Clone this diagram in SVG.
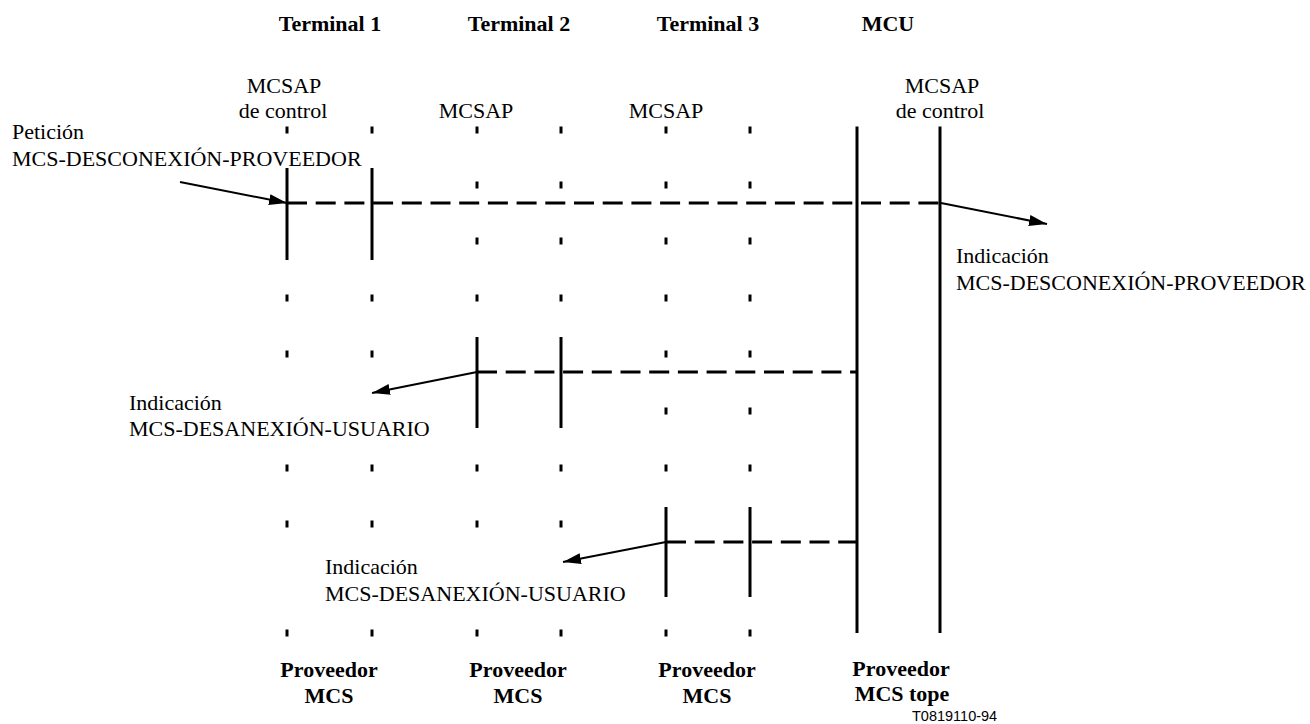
<svg xmlns="http://www.w3.org/2000/svg" width="1310" height="724" viewBox="0 0 1310 724">
<style>
.t{font-family:"Liberation Serif","Times New Roman",serif;font-size:22px;fill:#000}
.b{font-weight:bold}
.m{text-anchor:middle}
.life{stroke:#000;stroke-width:3;fill:none}
.tick{stroke:#000;stroke-width:3;fill:none}
.dash{stroke:#000;stroke-width:3;stroke-dasharray:20 8.7;fill:none}
.arr{stroke:#000;stroke-width:2;fill:none;marker-end:url(#ah)}
.code{font-family:"Liberation Sans",Arial,sans-serif;font-size:14.5px;fill:#000}
</style>
<defs>
<marker id="ah" markerUnits="userSpaceOnUse" markerWidth="20" markerHeight="12" refX="18" refY="5.5" orient="auto">
<polygon points="0,0 18,5.5 0,11" fill="#000"/>
</marker>
</defs>
<rect width="1310" height="724" fill="#fff"/>

<g id="headers">
<text class="t b m" x="330" y="31">Terminal 1</text>
<text class="t b m" x="519" y="31">Terminal 2</text>
<text class="t b m" x="708" y="31">Terminal 3</text>
<text class="t b m" x="888" y="31">MCU</text>
</g>

<g id="terminal1">
<text class="t m" x="284" y="93">MCSAP</text>
<text class="t m" x="283" y="118">de control</text>
<path class="life" d="M287,168V260M372,168V260"/>
<path class="tick" d="M287,126.5v7M372,126.5v7M287,294.5v7M372,294.5v7M287,350.5v7M372,350.5v7M287,464.5v7M372,464.5v7M287,520.5v7M372,520.5v7M287,629.5v7M372,629.5v7"/>
<text class="t b m" x="329" y="677">Proveedor</text>
<text class="t b m" x="329" y="703">MCS</text>
</g>

<g id="terminal2">
<text class="t m" x="476" y="118">MCSAP</text>
<path class="life" d="M477,337V428M561,337V428"/>
<path class="tick" d="M477,126.5v7M561,126.5v7M477,181.5v7M561,181.5v7M477,237.5v7M561,237.5v7M477,294.5v7M561,294.5v7M477,464.5v7M561,464.5v7M477,520.5v7M561,520.5v7M477,629.5v7M561,629.5v7"/>
<text class="t b m" x="518" y="677">Proveedor</text>
<text class="t b m" x="518" y="703">MCS</text>
</g>

<g id="terminal3">
<text class="t m" x="666" y="118">MCSAP</text>
<path class="life" d="M666,507V597M750,507V597"/>
<path class="tick" d="M666,126.5v7M750,126.5v7M666,181.5v7M750,181.5v7M666,237.5v7M750,237.5v7M666,294.5v7M750,294.5v7M666,350.5v7M750,350.5v7M666,407.5v7M750,407.5v7M666,464.5v7M750,464.5v7M666,629.5v7M750,629.5v7"/>
<text class="t b m" x="707" y="677">Proveedor</text>
<text class="t b m" x="707" y="703">MCS</text>
</g>

<g id="mcu">
<text class="t m" x="942" y="93">MCSAP</text>
<text class="t m" x="940" y="118">de control</text>
<path class="life" d="M857,126.5V633M940,126.5V633"/>
<text class="t b m" x="901" y="676">Proveedor</text>
<text class="t b m" x="902" y="701">MCS tope</text>
<text class="code" x="912" y="721">T0819110-94</text>
</g>

<g id="connectors">
<path class="dash" d="M287,203H940"/>
<path class="dash" d="M477,372H857"/>
<path class="dash" d="M666,542H857"/>
<path class="arr" d="M180,182L287,203"/>
<path class="arr" d="M941,203L1047,224"/>
<path class="arr" d="M477,372L372,393"/>
<path class="arr" d="M666,542L563,562"/>
</g>

<g id="labels">
<text class="t" x="12" y="139">Petición</text>
<text class="t" x="12" y="166">MCS-DESCONEXIÓN-PROVEEDOR</text>
<text class="t" x="956" y="263">Indicación</text>
<text class="t" x="956" y="290">MCS-DESCONEXIÓN-PROVEEDOR</text>
<text class="t" x="129" y="410">Indicación</text>
<text class="t" x="129" y="436">MCS-DESANEXIÓN-USUARIO</text>
<text class="t" x="325" y="574">Indicación</text>
<text class="t" x="325" y="601">MCS-DESANEXIÓN-USUARIO</text>
</g>
</svg>
